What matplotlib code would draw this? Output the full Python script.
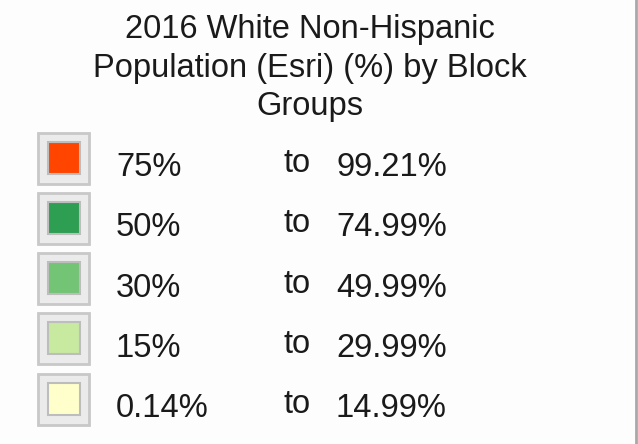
import matplotlib
matplotlib.use("Agg")
import matplotlib.pyplot as plt
from matplotlib.patches import Rectangle

title_lines = ["2016 White Non-Hispanic", "Population (Esri) (%) by Block", "Groups"]
lower_bounds = ["75%", "50%", "30%", "15%", "0.14%"]
upper_bounds = ["99.21%", "74.99%", "49.99%", "29.99%", "14.99%"]
colors = ["#FF4500", "#2E9E52", "#74C476", "#C7E9A0", "#FFFFCC"]

W, H = 638, 444
fig = plt.figure(figsize=(W / 100, H / 100), dpi=100)
ax = fig.add_axes([0, 0, 1, 1])
ax.set_xlim(0, W)
ax.set_ylim(H, 0)
ax.axis("off")
fig.patch.set_facecolor("#FDFDFD")

font = "Liberation Sans"
fs = 23.5
title_base = [38, 76.5, 115]
for line, y in zip(title_lines, title_base):
    ax.text(310, y, line, ha="center", va="baseline", fontsize=fs, family=font, color="#1A1A1A")

row_y0, row_dy = 157.5, 60.25
for i, (lo, hi, c) in enumerate(zip(lower_bounds, upper_bounds, colors)):
    yc = row_y0 + i * row_dy
    ax.add_patch(Rectangle((38, yc - 25), 51, 51, facecolor="#EBEBEB", edgecolor="#C8C8C8", lw=2))
    ax.add_patch(Rectangle((47.5, yc - 16), 32, 32, facecolor=c, edgecolor="#BDBDBD", lw=1.5))
    ax.text(116, yc + 18.5, lo, ha="left", va="baseline", fontsize=fs, family=font, color="#1A1A1A")
    ax.text(284, yc + 14.5, "to", ha="left", va="baseline", fontsize=fs, family=font, color="#1A1A1A")
    ax.text(336, yc + 18.5, hi, ha="left", va="baseline", fontsize=fs, family=font, color="#1A1A1A")

ax.plot([636, 636], [0, H], color="#A8A8A8", lw=2)

fig.savefig("out.png", dpi=100, facecolor=fig.get_facecolor())
